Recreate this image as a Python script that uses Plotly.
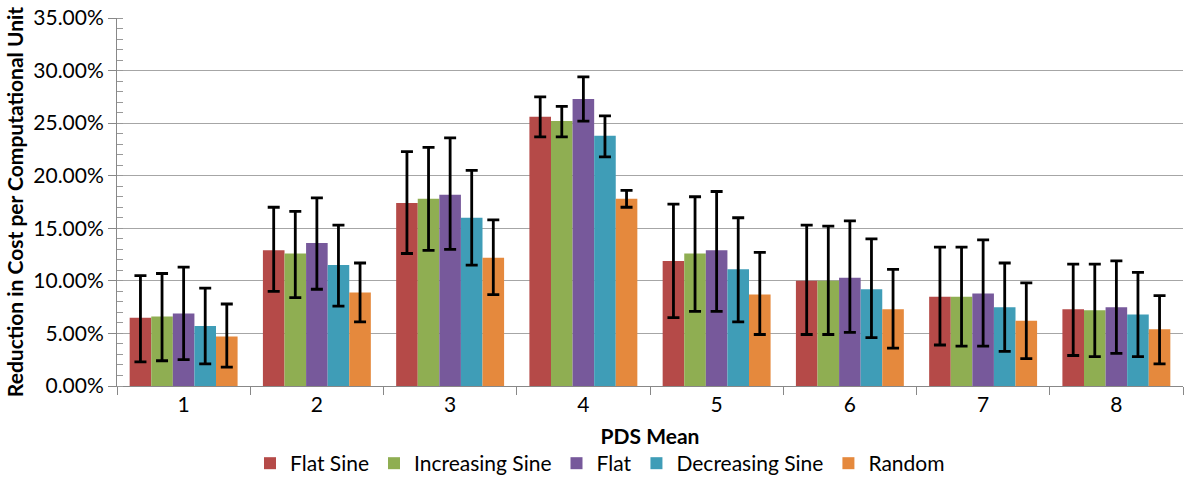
import plotly.graph_objects as go

categories = ["1", "2", "3", "4", "5", "6", "7", "8"]
series_names = ["Flat Sine", "Increasing Sine", "Flat", "Decreasing Sine", "Random"]
colors = ["#B54A48", "#8FAE52", "#77599B", "#3F9DB7", "#E5893D"]

flat_sine = [6.5, 12.9, 17.4, 25.6, 11.9, 10.0, 8.5, 7.3]
flat_sine_hi = [10.5, 17.0, 22.3, 27.5, 17.3, 15.3, 13.2, 11.6]
flat_sine_lo = [2.3, 9.0, 12.6, 23.7, 6.5, 4.9, 3.9, 2.9]

inc_sine = [6.6, 12.6, 17.8, 25.2, 12.6, 10.0, 8.5, 7.2]
inc_sine_hi = [10.7, 16.6, 22.7, 26.6, 18.0, 15.2, 13.2, 11.6]
inc_sine_lo = [2.4, 8.4, 12.9, 23.7, 7.1, 4.9, 3.8, 2.8]

flat = [6.9, 13.6, 18.2, 27.3, 12.9, 10.3, 8.8, 7.5]
flat_hi = [11.3, 17.9, 23.6, 29.4, 18.5, 15.7, 13.9, 11.9]
flat_lo = [2.5, 9.2, 13.0, 25.2, 7.1, 5.1, 3.8, 3.1]

dec_sine = [5.7, 11.5, 16.0, 23.8, 11.1, 9.2, 7.5, 6.8]
dec_sine_hi = [9.3, 15.3, 20.5, 25.7, 16.0, 14.0, 11.7, 10.8]
dec_sine_lo = [2.1, 7.6, 11.5, 21.8, 6.1, 4.6, 3.3, 2.8]

random_ = [4.7, 8.9, 12.2, 17.8, 8.7, 7.3, 6.2, 5.4]
random_hi = [7.8, 11.7, 15.8, 18.6, 12.7, 11.1, 9.8, 8.6]
random_lo = [1.8, 6.1, 8.7, 17.0, 4.9, 3.6, 2.6, 2.1]

values = [flat_sine, inc_sine, flat, dec_sine, random_]
highs = [flat_sine_hi, inc_sine_hi, flat_hi, dec_sine_hi, random_hi]
lows = [flat_sine_lo, inc_sine_lo, flat_lo, dec_sine_lo, random_lo]

fig = go.Figure()
for name, col, v, hi, lo in zip(series_names, colors, values, highs, lows):
    y = [a / 100 for a in v]
    plus = [(h - a) / 100 for h, a in zip(hi, v)]
    minus = [(a - l) / 100 for a, l in zip(v, lo)]
    fig.add_trace(go.Bar(
        x=categories, y=y, name=name, marker=dict(color=col, line=dict(width=0)),
        error_y=dict(type="data", symmetric=False, array=plus, arrayminus=minus,
                     color="black", thickness=2.8, width=6),
    ))

font_family = "Lato, 'Open Sans', sans-serif"
fig.update_layout(
    width=1200, height=494,
    margin=dict(l=117, r=17, t=18, b=108, autoexpand=False),
    paper_bgcolor="white", plot_bgcolor="white",
    barmode="group", bargap=0.19, bargroupgap=0,
    font=dict(family=font_family, size=21, color="black"),
    legend=dict(orientation="h", xref="container", x=0.5, xanchor="center",
                y=-0.155, yanchor="top", font=dict(size=21), traceorder="normal"),
    showlegend=True,
)
fig.update_yaxes(
    range=[0, 0.35], dtick=0.05, tickformat=".2%",
    showgrid=True, gridcolor="#A6A6A6", gridwidth=1,
    showline=True, linecolor="#888888", linewidth=1,
    ticks="outside", ticklen=8, tickcolor="#888888",
    minor=dict(dtick=0.01, ticks="inside", ticklen=6, tickcolor="#999999", showgrid=False),
    title=dict(text="<b>Reduction in Cost per Computational Unit</b>", font=dict(size=21), standoff=3),
    zeroline=False, automargin=False,
)
fig.update_xaxes(
    showline=True, linecolor="#888888", linewidth=1,
    ticks="outside", tickson="boundaries", ticklen=8, tickcolor="#888888",
    title=dict(text="<b>PDS Mean</b>", font=dict(size=21), standoff=14),
    showgrid=False, automargin=False,
)

fig.write_html("out.html", config={"displayModeBar": False},
               post_script="document.body.style.margin='0';")
